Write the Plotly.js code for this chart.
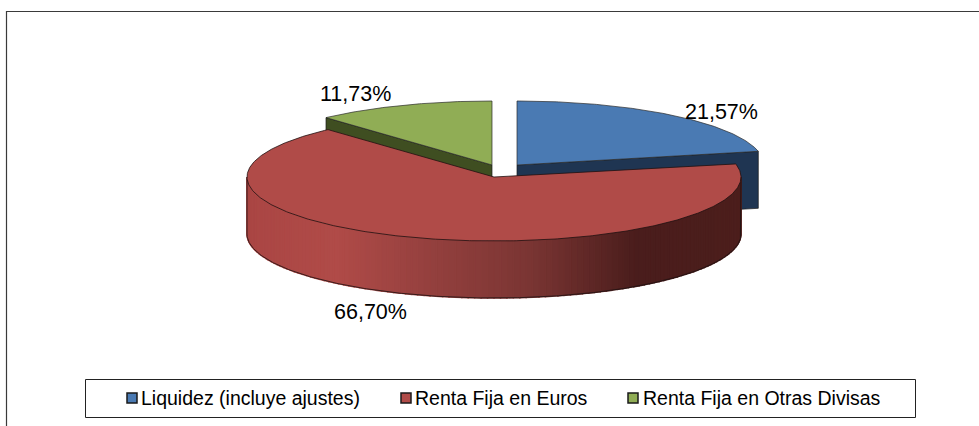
<!DOCTYPE html>
<html>
<head>
<meta charset="utf-8">
<script src="https://cdn.plot.ly/plotly-3.0.1.min.js"></script>
<style>html,body{margin:0;padding:0;background:#fff}#chart{width:979px;height:426px}</style>
</head>
<body>
<div id="chart"></div>
<script>
var categories = ["Liquidez (incluye ajustes)", "Renta Fija en Euros", "Renta Fija en Otras Divisas"];
var values = [21.57, 66.70, 11.73];
var valueLabels = ["21,57%", "66,70%", "11,73%"];
var topColors = ["#4A7AB3", "#B04B48", "#90AD55"];
var cutColors = ["#1F3552", "#4E1F1D", "#3F4E21"];

var A = 247, B = 64, DEPTH = 57;
var centers = [[517, 165], [494, 177], [492, 165]];
var labelPos = [[721, 112], [370, 312], [355, 94]];
var legendMarkX = [132, 406, 633], legendTextX = [141, 415, 643], legendY = 398;
var FONT = "Liberation Sans, Arial, sans-serif";

var total = values.reduce(function (s, v) { return s + v; }, 0);
var angles = [0];
values.forEach(function (v, i) { angles.push(angles[i] + v / total * 2 * Math.PI); });

function rim(c, t0, t1, dy) {
  var xs = [], ys = [], n = Math.max(2, Math.ceil((t1 - t0) / 0.01));
  for (var k = 0; k <= n; k++) {
    var t = t0 + (t1 - t0) * k / n;
    xs.push(c[0] + A * Math.sin(t));
    ys.push(c[1] - B * Math.cos(t) + (dy || 0));
  }
  return {x: xs, y: ys};
}
function poly(x, y, fill, line, w) {
  return {type: "scatter", mode: "lines", x: x, y: y, fill: "toself", fillcolor: fill,
    line: {color: line, width: w === undefined ? 0.8 : w}, hoverinfo: "skip", showlegend: false};
}
function sector(i, lineColor, w) {
  var c = centers[i], r = rim(c, angles[i], angles[i + 1]);
  return poly([c[0]].concat(r.x, [c[0]]), [c[1]].concat(r.y, [c[1]]), topColors[i], lineColor || "#2b2b2b", w || 0.7);
}
function cutFace(i, t) {
  var c = centers[i], px = c[0] + A * Math.sin(t), py = c[1] - B * Math.cos(t);
  return poly([c[0], px, px, c[0], c[0]], [c[1], py, py + DEPTH, c[1] + DEPTH, c[1]], cutColors[i], "#1a1a1a", 0.7);
}
var stops = [[247, [170, 70, 68]], [335, [176, 75, 72]], [430, [148, 64, 62]], [530, [122, 53, 51]], [635, [74, 29, 28]], [741, [76, 30, 28]]];
function shade(x) {
  for (var i = 1; i < stops.length; i++) {
    if (x <= stops[i][0]) {
      var f = (x - stops[i - 1][0]) / (stops[i][0] - stops[i - 1][0]);
      var a = stops[i - 1][1], b = stops[i][1];
      return "rgb(" + [0, 1, 2].map(function (k) { return Math.round(a[k] + (b[k] - a[k]) * f); }).join(",") + ")";
    }
  }
  return "rgb(76,30,28)";
}

var traces = [];
traces.push(cutFace(2, angles[2]));
traces.push(cutFace(0, angles[1]));
traces.push(sector(2));
traces.push(sector(0));

// outer wall of the large slice (visible front half only)
var c1 = centers[1], step = Math.PI / 120;
for (var t = Math.PI / 2; t < 3 * Math.PI / 2 - 1e-6; t += step) {
  var s = rim(c1, t, t + step);
  var xs = s.x.concat(s.x.slice().reverse(), [s.x[0]]);
  var ys = s.y.concat(s.y.slice().reverse().map(function (v) { return v + DEPTH; }), [s.y[0]]);
  var col = shade((s.x[0] + s.x[s.x.length - 1]) / 2);
  traces.push(poly(xs, ys, col, col, 1.5));
}
var low = rim(c1, Math.PI / 2, 3 * Math.PI / 2, DEPTH);
traces.push({type: "scatter", mode: "lines",
  x: [A + c1[0]].concat(low.x, [c1[0] - A]), y: [c1[1]].concat(low.y, [c1[1]]),
  line: {color: "#1c1010", width: 0.8}, hoverinfo: "skip", showlegend: false});
traces.push(sector(1, "#1f1010", 0.8));

// legend swatches
categories.forEach(function (name, i) {
  traces.push({type: "scatter", mode: "markers", x: [legendMarkX[i]], y: [legendY], name: name,
    marker: {symbol: "square", size: 10, color: topColors[i], line: {color: "#1a1a1a", width: 1.5}},
    hoverinfo: "skip", showlegend: false});
});

var annotations = [];
values.forEach(function (v, i) {
  annotations.push({x: labelPos[i][0], y: labelPos[i][1], xref: "x", yref: "y", text: valueLabels[i],
    showarrow: false, xanchor: "center", yanchor: "middle", font: {family: FONT, size: 21.5, color: "#000"}});
});
categories.forEach(function (name, i) {
  annotations.push({x: legendTextX[i], y: legendY, xref: "x", yref: "y", text: name,
    showarrow: false, xanchor: "left", yanchor: "middle", xshift: -2, font: {family: FONT, size: 19.5, color: "#000"}});
});

var layout = {
  width: 979, height: 426, margin: {l: 0, r: 0, t: 0, b: 0},
  paper_bgcolor: "#fff", plot_bgcolor: "#fff", showlegend: false, hovermode: false,
  xaxis: {range: [0, 979], visible: false, fixedrange: true},
  yaxis: {range: [426, 0], visible: false, fixedrange: true},
  annotations: annotations,
  shapes: [
    {type: "rect", xref: "x", yref: "y", x0: 6.5, y0: 11.5, x1: 990, y1: 440, line: {color: "#3a3a3a", width: 1.2}, fillcolor: "rgba(0,0,0,0)", layer: "below"},
    {type: "rect", xref: "x", yref: "y", x0: 85.5, y0: 379.5, x1: 915.5, y1: 417.5, line: {color: "#222", width: 1}, fillcolor: "#fff", layer: "below"}
  ]
};
Plotly.newPlot("chart", traces, layout, {displayModeBar: false, staticPlot: true});
</script>
</body>
</html>
